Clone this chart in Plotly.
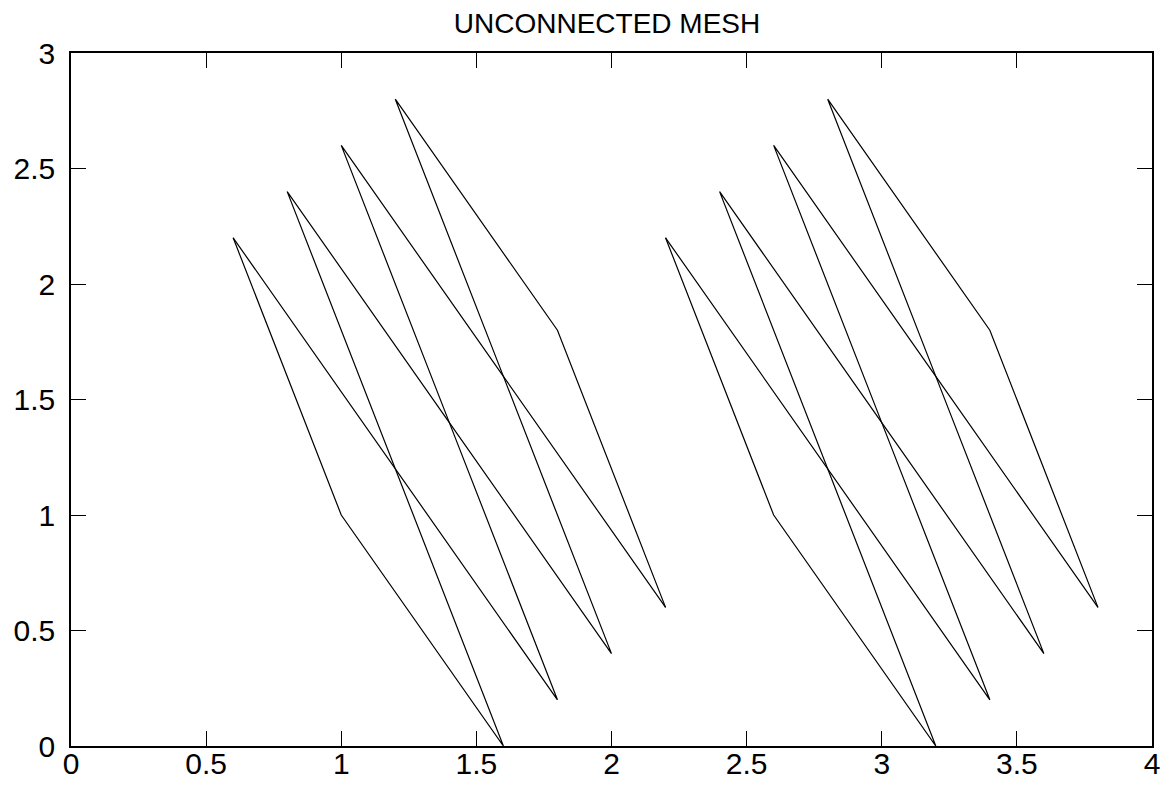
import plotly.graph_objects as go

# Mesh polylines (first block)
mesh1_a_x = [0.6, 1.0, 1.6, 1.2, 0.8, 1.4, 2.0, 1.6, 1.2, 1.8, 2.2]
mesh1_a_y = [2.2, 1.0, 0.0, 1.2, 2.4, 1.4, 0.4, 1.6, 2.8, 1.8, 0.6]
mesh1_b_x = [0.6, 1.2, 1.8, 1.4, 1.0, 1.6, 2.2]
mesh1_b_y = [2.2, 1.2, 0.2, 1.4, 2.6, 1.6, 0.6]

# Mesh polylines (second block)
mesh2_a_x = [2.2, 2.6, 3.2, 2.8, 2.4, 3.0, 3.6, 3.2, 2.8, 3.4, 3.8]
mesh2_a_y = [2.2, 1.0, 0.0, 1.2, 2.4, 1.4, 0.4, 1.6, 2.8, 1.8, 0.6]
mesh2_b_x = [2.2, 2.8, 3.4, 3.0, 2.6, 3.2, 3.8]
mesh2_b_y = [2.2, 1.2, 0.2, 1.4, 2.6, 1.6, 0.6]

title_text = "UNCONNECTED MESH"

fig = go.Figure()
for xs, ys in [(mesh1_a_x, mesh1_a_y), (mesh1_b_x, mesh1_b_y),
               (mesh2_a_x, mesh2_a_y), (mesh2_b_x, mesh2_b_y)]:
    fig.add_trace(go.Scatter(x=xs, y=ys, mode="lines",
                             line=dict(color="black", width=1.2),
                             showlegend=False, hoverinfo="skip"))

axis_common = dict(
    showgrid=False, zeroline=False, automargin=False,
    showline=True, linecolor="black", linewidth=1.5,
    mirror="ticks", ticks="inside", ticklen=15, tickwidth=1.2,
    tickcolor="black", dtick=0.5,
    tickfont=dict(family="Liberation Sans", size=30, color="black"),
)

fig.update_xaxes(range=[0, 4], tick0=0, ticklabelstandoff=-10, **axis_common)
fig.update_yaxes(range=[0, 3], tick0=0, ticklabelstandoff=8, **axis_common)

W, H = 1156, 774
fig.update_layout(
    width=W, height=H,
    margin=dict(l=63, r=12, t=45, b=36),
    paper_bgcolor="white", plot_bgcolor="white",
    title=dict(text=title_text, x=599 / W, xanchor="center",
               y=1 - 15 / H, yanchor="middle", yref="container",
               font=dict(family="Liberation Sans", size=28, color="black")),
)

fig.write_html("out.html")
